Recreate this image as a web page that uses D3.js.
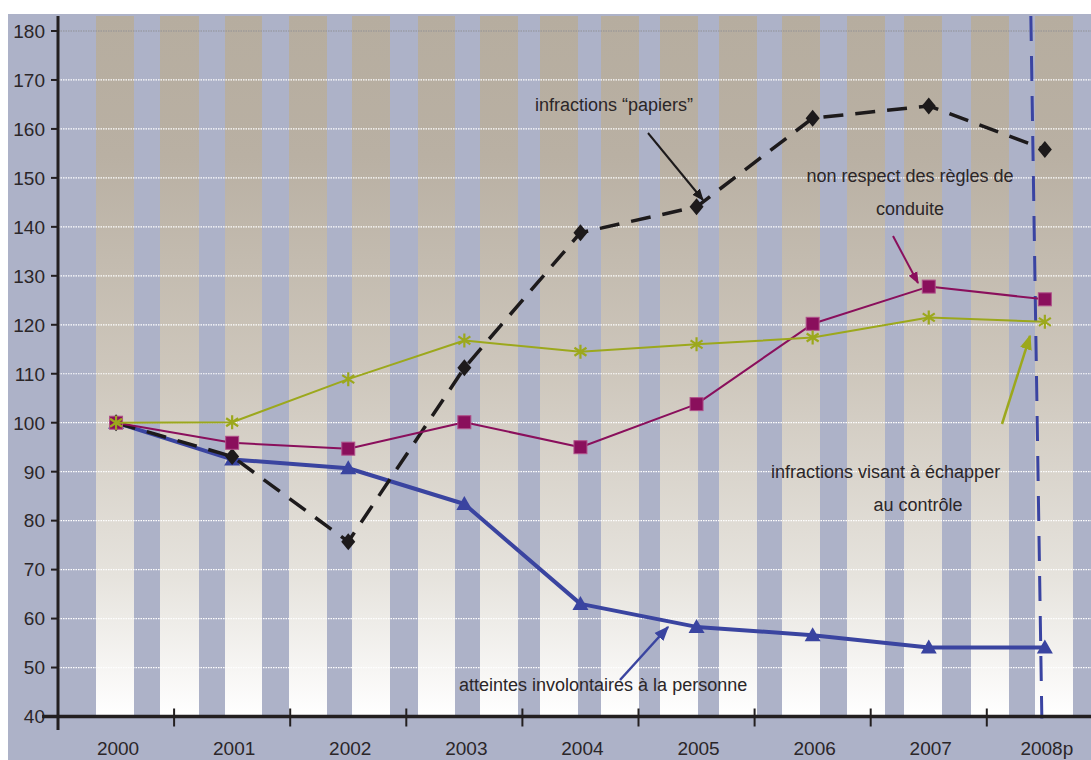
<!DOCTYPE html>
<html>
<head>
<meta charset="utf-8">
<script src="https://cdn.jsdelivr.net/npm/d3@7"></script>
<style>
  html, body { margin: 0; padding: 0; background: #ffffff; }
  svg { display: block; }
  text { font-family: "Liberation Sans", Arial, sans-serif; fill: #2b2628; }
</style>
</head>
<body>
<svg id="chart" width="1091" height="760"></svg>
<script>
// Years on the horizontal axis (2008 is provisional)
const years = ["2000", "2001", "2002", "2003", "2004", "2005", "2006", "2007", "2008p"];

// Index values, base 100 in 2000
const papiers     = [100, 93.1, 75.7, 111.2, 138.8, 144.1, 162.2, 164.7, 155.8];
const conduite    = [100, 95.9, 94.7, 100.1, 95.0, 103.8, 120.2, 127.8, 125.2];
const echapper    = [100, 100.1, 108.9, 116.8, 114.5, 116.0, 117.4, 121.5, 120.6];
const involontaires = [100, 92.5, 90.7, 83.4, 63.0, 58.3, 56.6, 54.1, 54.1];

const yTicks = [40, 50, 60, 70, 80, 90, 100, 110, 120, 130, 140, 150, 160, 170, 180];

// Decorative vertical bands of the backdrop (left edge, right edge in px)
const stripeEdges = [
  [96, 134], [160, 199], [225, 262], [289, 327], [352, 390], [418, 455],
  [480, 518], [540, 578], [601, 639], [660, 698], [719, 757], [782, 820],
  [847, 885], [904, 942], [971, 1009], [1035, 1073]
];

const svg = d3.select("#chart");
const W = 1091, H = 760;
const left = 58, plotTop = 16, bottom = 716.5;

const x = d3.scaleBand().domain(years).range([left, left + 116.1 * years.length]).paddingInner(0).paddingOuter(0);
const y = d3.scaleLinear().domain([40, 180]).range([bottom, 31]);
const cx = d => x(d) + x.bandwidth() / 2;

const defs = svg.append("defs");
const grad = defs.append("linearGradient")
  .attr("id", "stripeFade").attr("gradientUnits", "userSpaceOnUse")
  .attr("x1", 0).attr("y1", plotTop).attr("x2", 0).attr("y2", bottom);
[[0, "#b6ad9f"], [0.2, "#b9b0a3"], [0.5, "#cdc6bb"], [0.8, "#e6e3dd"], [1, "#ffffff"]]
  .forEach(([o, c]) => grad.append("stop").attr("offset", o).attr("stop-color", c));

function arrowMarker(id, color) {
  defs.append("marker")
    .attr("id", id).attr("viewBox", "0 0 10 10")
    .attr("refX", 9).attr("refY", 5)
    .attr("markerWidth", 6).attr("markerHeight", 6)
    .attr("markerUnits", "strokeWidth")
    .attr("orient", "auto")
    .append("path").attr("d", "M0,1 L10,5 L0,9 Z").attr("fill", color);
}
arrowMarker("arBlack", "#1d1a1b");
arrowMarker("arPurple", "#8a0f5c");
arrowMarker("arGreen", "#9ca81c");
arrowMarker("arBlue", "#3a44a0");

// Backdrop
svg.append("rect").attr("x", 8).attr("y", 14).attr("width", W - 8).attr("height", H - 14).attr("fill", "#adb2c8");
svg.append("g").selectAll("rect").data(stripeEdges).join("rect")
  .attr("x", d => d[0]).attr("y", plotTop)
  .attr("width", d => d[1] - d[0]).attr("height", bottom - plotTop)
  .attr("fill", "url(#stripeFade)");

// Horizontal grid
svg.append("g").selectAll("line").data(yTicks.filter(v => v > 40)).join("line")
  .attr("x1", left).attr("x2", W)
  .attr("y1", d => y(d)).attr("y2", d => y(d))
  .attr("stroke", d => d === 180 ? "#8f8f93" : "#ffffff")
  .attr("stroke-width", 1.2)
  .attr("stroke-dasharray", "1.5,1");

// Vertical reference line at the provisional year
const refX0 = cx("2008p") - 14, refX1 = cx("2008p") - 3;
svg.append("line")
  .attr("x1", refX0).attr("y1", plotTop).attr("x2", refX1).attr("y2", bottom + 2)
  .attr("stroke", "#3a44a2").attr("stroke-width", 3).attr("stroke-dasharray", "25,15");

// Y axis
const yAxis = svg.append("g");
yAxis.append("line").attr("x1", left).attr("x2", left).attr("y1", plotTop).attr("y2", 730)
  .attr("stroke", "#231f20").attr("stroke-width", 3);
yAxis.selectAll("line.tick").data(yTicks).join("line").attr("class", "tick")
  .attr("x1", left - 7).attr("x2", left).attr("y1", d => y(d)).attr("y2", d => y(d))
  .attr("stroke", "#231f20").attr("stroke-width", 2);
yAxis.selectAll("text").data(yTicks).join("text")
  .attr("x", 45).attr("y", d => y(d)).attr("dy", "0.36em")
  .attr("text-anchor", "end").attr("font-size", 19).text(d => d);

// X axis
const xAxis = svg.append("g");
xAxis.append("line").attr("x1", 42).attr("x2", W).attr("y1", bottom).attr("y2", bottom)
  .attr("stroke", "#231f20").attr("stroke-width", 3.5);
xAxis.selectAll("line.tick").data(years.slice(1)).join("line").attr("class", "tick")
  .attr("x1", d => x(d)).attr("x2", d => x(d)).attr("y1", bottom - 8).attr("y2", bottom + 10)
  .attr("stroke", "#231f20").attr("stroke-width", 2);
xAxis.selectAll("text").data(years).join("text")
  .attr("x", d => cx(d) + 2).attr("y", 755)
  .attr("text-anchor", "middle").attr("font-size", 19).text(d => d);

// Series
const line = d3.line().x((d, i) => cx(years[i])).y(d => y(d));
const g = svg.append("g");

function drawSeries(values, color, width, dash) {
  g.append("path").datum(values).attr("d", line)
    .attr("fill", "none").attr("stroke", color).attr("stroke-width", width)
    .attr("stroke-linejoin", "round")
    .attr("stroke-dasharray", dash || null);
}

// atteintes involontaires à la personne
drawSeries(involontaires, "#3a44a0", 4);
g.append("g").selectAll("path").data(involontaires).join("path")
  .attr("transform", (d, i) => `translate(${cx(years[i])},${y(d)})`)
  .attr("d", "M0,-8 L8,6 L-8,6 Z").attr("fill", "#3a44a0");

// infractions "papiers"
drawSeries(papiers, "#1d1a1b", 3.5, "20,12");
g.append("g").selectAll("path").data(papiers).join("path")
  .attr("transform", (d, i) => `translate(${cx(years[i])},${y(d)})`)
  .attr("d", "M0,-8.5 L7,0 L0,8.5 L-7,0 Z").attr("fill", "#1d1a1b");

// non respect des règles de conduite
drawSeries(conduite, "#8a0f5c", 2);
g.append("g").selectAll("rect").data(conduite).join("rect")
  .attr("x", (d, i) => cx(years[i]) - 6.5).attr("y", d => y(d) - 6.5)
  .attr("width", 13).attr("height", 13)
  .attr("fill", "#8a0f5c").attr("stroke", "#b0508a").attr("stroke-width", 1);

// infractions visant à échapper au contrôle
drawSeries(echapper, "#9ca81c", 2);
g.append("g").selectAll("path").data(echapper).join("path")
  .attr("transform", (d, i) => `translate(${cx(years[i])},${y(d)})`)
  .attr("d", "M0,-7 L0,7 M-6,-4 L6,4 M-6,4 L6,-4")
  .attr("fill", "none").attr("stroke", "#9ca81c").attr("stroke-width", 2.2);

// Annotations
const notes = [
  { lines: ["infractions \u201cpapiers\u201d"], x: 535, y: 111, anchor: "start" },
  { lines: ["non respect des règles de", "conduite"], x: 910, y: 182, anchor: "middle" },
  { lines: ["infractions visant à échapper", "au contrôle"], x: 771, y: 478, anchor: "start", second: 918 },
  { lines: ["atteintes involontaires à la personne"], x: 459, y: 691, anchor: "start" }
];
notes.forEach(n => {
  n.lines.forEach((t, i) => {
    const sx = i === 1 && n.second ? n.second : n.x;
    const anchor = i === 1 && n.second ? "middle" : n.anchor;
    svg.append("text").attr("x", sx).attr("y", n.y + i * 33)
      .attr("text-anchor", anchor).attr("font-size", 18).text(t);
  });
});

const arrows = [
  { from: [648, 133], to: [703, 200], color: "#1d1a1b", m: "arBlack", w: 2 },
  { from: [893, 236], to: [918, 283], color: "#8a0f5c", m: "arPurple", w: 2 },
  { from: [1002, 424], to: [1030, 336], color: "#9ca81c", m: "arGreen", w: 2.5 },
  { from: [620, 680], to: [668, 627], color: "#3a44a0", m: "arBlue", w: 2.5 }
];
svg.append("g").selectAll("line").data(arrows).join("line")
  .attr("x1", d => d.from[0]).attr("y1", d => d.from[1])
  .attr("x2", d => d.to[0]).attr("y2", d => d.to[1])
  .attr("stroke", d => d.color).attr("stroke-width", d => d.w)
  .attr("marker-end", d => `url(#${d.m})`);
</script>
</body>
</html>
